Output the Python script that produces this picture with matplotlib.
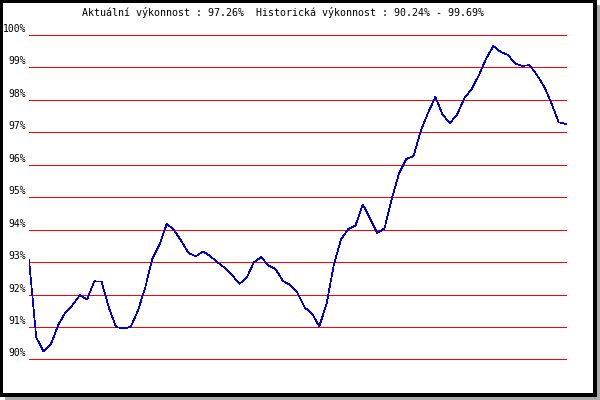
import matplotlib
matplotlib.use("Agg")
import matplotlib.pyplot as plt
import matplotlib.transforms as mtransforms
from matplotlib.patches import Rectangle

# performance series (%)
values = [
    93.07, 90.68, 90.25, 90.46, 91.05, 91.45, 91.68, 91.98, 91.85, 92.41,
    92.40, 91.60, 91.00, 90.96, 91.00, 91.50, 92.20, 93.10, 93.55, 94.19,
    93.98, 93.65, 93.28, 93.18, 93.33, 93.18, 92.99, 92.82, 92.60, 92.33,
    92.52, 93.00, 93.15, 92.90, 92.78, 92.42, 92.30, 92.05, 91.60, 91.42,
    91.02, 91.70, 92.90, 93.70, 94.02, 94.13, 94.78, 94.35, 93.90, 94.04,
    94.95, 95.74, 96.18, 96.27, 97.05, 97.60, 98.09, 97.55, 97.28, 97.55,
    98.05, 98.33, 98.76, 99.27, 99.66, 99.48, 99.39, 99.12, 99.05, 99.07,
    98.77, 98.41, 97.90, 97.31, 97.26,
]
yticks = [90, 91, 92, 93, 94, 95, 96, 97, 98, 99, 100]
ytick_labels = [f"{t}%" for t in yticks]
title = "Aktuální výkonnost : 97.26%  Historická výkonnost : 90.24% - 99.69%"

W, H = 600, 400
fig = plt.figure(figsize=(6, 4), dpi=100)
fig.patch.set_facecolor("white")


def fx(px):
    return px / W


def fy(py):
    return 1 - py / H


# drop shadow + black frame
fig.add_artist(Rectangle((fx(5), fy(400)), fx(595), 395 / H, transform=fig.transFigure,
                         facecolor="#aaaaaa", edgecolor="none", zorder=0))
fig.add_artist(Rectangle((fx(1), fy(395)), fx(594), 394 / H, transform=fig.transFigure,
                         facecolor="white", edgecolor="black", linewidth=1.5,
                         antialiased=False, zorder=1))

ax = fig.add_axes([fx(29), fy(359.5), fx(538), (359.5 - 35) / H])
ax.set_facecolor("none")
ax.set_zorder(2)
for s in ax.spines.values():
    s.set_visible(False)
ax.set_xticks([])
ax.set_yticks([])
ax.set_ylim(90, 100)
ax.set_xlim(0, len(values) - 1 + 0.15)

for t in yticks:
    ax.axhline(t, color="#ff0000", linewidth=0.72, antialiased=False, zorder=1)

ax.plot(range(len(values)), values, color="#0000d0", linewidth=0.5, antialiased=False, zorder=3)

lab_tr = mtransforms.offset_copy(ax.get_yaxis_transform(), fig=fig, x=-3, y=3, units="dots")
for t, lab in zip(yticks, ytick_labels):
    ax.text(0, t, lab, transform=lab_tr, ha="right", va="baseline",
            fontsize=7, family="DejaVu Sans Mono", color="black")

fig.text(fx(82), fy(13), title, ha="left", va="center", fontsize=7.2,
         family="DejaVu Sans Mono", color="black")

fig.savefig("out.png", dpi=100)
